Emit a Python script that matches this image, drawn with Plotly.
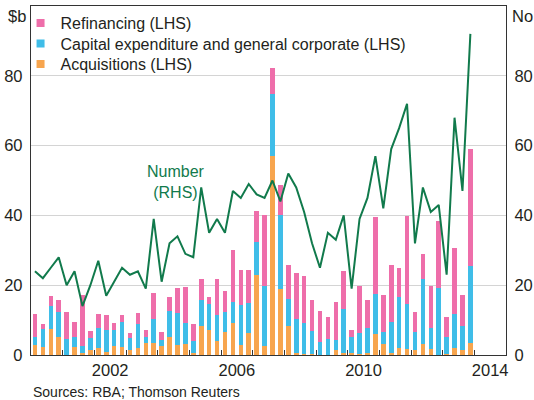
import plotly.graph_objects as go

# Quarterly data, 2000 Q1 to 2013 Q4
years = list(range(2000, 2014))
quarters = [f"{y} Q{q}" for y in years for q in range(1, 5)]

acquisitions = [2.9, 2.3, 7.4, 5.2, 0.0, 2.3, 0.6, 1.5, 2.1, 1.0, 2.7, 2.3,
                1.4, 2.0, 3.4, 3.4, 2.7, 5.2, 2.9, 3.2, 0.6, 8.4, 7.3, 4.0,
                6.7, 9.2, 2.9, 6.3, 22.9, 2.5, 57.1, 18.9, 8.4, 0.6, 0.4, 0.4,
                0.0, 0.0, 1.5, 0.6, 0.7, 0.3, 0.6, 6.1, 3.2, 0.6, 2.1, 1.7,
                1.5, 3.2, 1.7, 0.0, 0.4, 2.1, 1.5, 3.4]
capex_general = [2.4, 5.1, 6.6, 7.1, 4.6, 2.9, 2.0, 3.5, 5.7, 6.2, 4.6, 7.3,
                 3.6, 7.0, 1.8, 6.9, 1.7, 7.3, 9.1, 6.0, 3.4, 7.5, 7.4, 7.6,
                 5.7, 6.1, 11.4, 8.6, 9.6, 17.4, 17.8, 21.2, 7.6, 9.7, 8.8, 6.5,
                 3.8, 4.6, 2.9, 12.6, 4.5, 6.0, 7.2, 11.5, 3.5, 9.0, 14.5, 13.0,
                 5.2, 18.6, 6.1, 19.3, 4.8, 9.7, 6.9, 22.2]
refinancing = [6.4, 1.5, 2.9, 3.5, 7.7, 4.3, 14.6, 1.9, 3.9, 4.3, 1.9, 1.9,
               1.3, 3.0, 2.0, 7.5, 2.2, 4.1, 7.2, 10.3, 4.9, 5.9, 2.0, 10.2,
               5.9, 14.8, 10.1, 9.5, 8.8, 20.2, 7.3, 8.6, 9.8, 13.2, 13.5, 9.0,
               8.8, 6.3, 10.7, 10.9, 2.0, 13.6, 8.1, 21.9, 10.5, 16.2, 8.4, 25.2,
               5.7, 7.2, 12.1, 19.1, 5.7, 19.0, 8.8, 33.4]
number = [24, 22, 25, 28, 20, 24, 14, 20, 27, 17, 21, 25,
          23, 24, 19, 39, 21, 32, 34, 29, 28, 48, 35, 39,
          35, 47, 45, 49, 46, 45, 50, 44, 52, 48, 41, 32,
          25, 35, 33, 40, 19, 39, 45, 57, 42, 59, 65, 72,
          32, 48, 41, 43, 23, 68, 47, 92]

x_tick_labels = ["2002", "2006", "2010", "2014"]

# numeric x positions (mid-quarter)
xpos = [y + (q - 0.5) / 4 for y in years for q in range(1, 5)]

PINK = "#EE6EAA"
BLUE = "#3FBDE8"
ORANGE = "#F7A54E"
GREEN = "#117A4C"
TXT = "#231F20"
FONT = "Liberation Sans, Arial, sans-serif"

fig = go.Figure()
fig.add_trace(go.Bar(x=xpos, y=acquisitions, marker_color=ORANGE, marker_line_width=0,
                     name="Acquisitions (LHS)", showlegend=False, hovertext=quarters))
fig.add_trace(go.Bar(x=xpos, y=capex_general, marker_color=BLUE, marker_line_width=0,
                     name="Capital expenditure and general corporate (LHS)", showlegend=False,
                     hovertext=quarters))
fig.add_trace(go.Bar(x=xpos, y=refinancing, marker_color=PINK, marker_line_width=0,
                     name="Refinancing (LHS)", showlegend=False, hovertext=quarters))
fig.add_trace(go.Scatter(x=xpos, y=number, mode="lines", yaxis="y2",
                         line=dict(color=GREEN, width=2), name="Number (RHS)",
                         showlegend=False, hovertext=quarters))

# legend entries (small square swatches), one legend per row for exact spacing
legend_rows = [("Refinancing (LHS)", PINK, "legend", 23),
               ("Capital expenditure and general corporate (LHS)", BLUE, "legend2", 43.5),
               ("Acquisitions (LHS)", ORANGE, "legend3", 64)]
for nm, col, lg, _ in legend_rows:
    fig.add_trace(go.Scatter(x=[None], y=[None], mode="markers", name=nm, legend=lg,
                             marker=dict(symbol="square", size=8, color=col),
                             showlegend=True))

PLOT_TOP, PLOT_BOTTOM = 6, 355


def legend_cfg(yc):
    return dict(x=-0.022, y=(PLOT_BOTTOM - yc) / (PLOT_BOTTOM - PLOT_TOP),
                xanchor="left", yanchor="middle",
                bgcolor="rgba(0,0,0,0)", font=dict(size=16, color=TXT),
                itemwidth=30, borderwidth=0)


fig.update_layout(
    width=534, height=400,
    margin=dict(l=31, r=28, t=6, b=45, autoexpand=False),
    paper_bgcolor="white", plot_bgcolor="white",
    barmode="stack", bargap=0.42,
    font=dict(family=FONT, size=16, color=TXT),
    showlegend=True,
    legend=legend_cfg(legend_rows[0][3]),
    legend2=legend_cfg(legend_rows[1][3]),
    legend3=legend_cfg(legend_rows[2][3]),
    xaxis=dict(range=[2000, 2015], tickvals=[2002.5, 2006.5, 2010.5, 2014.5],
               ticktext=x_tick_labels, ticks="", showgrid=False, zeroline=False,
               showline=True, linecolor="#333333", linewidth=1.3, mirror=True,
               tickfont=dict(size=16.5, color=TXT),
               minor=dict(tickvals=list(range(2001, 2015)), ticks="inside",
                          ticklen=5, tickwidth=1.2, tickcolor="#333333", showgrid=False)),
    yaxis=dict(range=[0, 100], tickvals=[0, 20, 40, 60, 80], ticks="",
               showgrid=True, gridcolor="#D4D4D4", gridwidth=1.2, zeroline=False,
               showline=True, linecolor="#333333", linewidth=1.3,
               tickfont=dict(size=16.5, color=TXT), ticklabelstandoff=4),
    yaxis2=dict(range=[0, 100], tickvals=[0, 20, 40, 60, 80], ticks="",
                overlaying="y", side="right", showgrid=False, zeroline=False,
                showline=True, linecolor="#333333", linewidth=1.3,
                tickfont=dict(size=16.5, color=TXT), ticklabelstandoff=4),
    annotations=[
        dict(text="$b", xref="paper", yref="paper", x=-0.006, y=0.97,
             xanchor="right", yanchor="middle", showarrow=False,
             font=dict(size=16.5, color=TXT)),
        dict(text="No", xref="paper", yref="paper", x=1.008, y=0.97,
             xanchor="left", yanchor="middle", showarrow=False,
             font=dict(size=16.5, color=TXT)),
        dict(text="Number<br>(RHS)", xref="paper", yref="paper", x=0.305, y=0.497,
             xanchor="center", yanchor="middle", showarrow=False, align="center",
             font=dict(size=16, color=GREEN)),
        dict(text="Sources: RBA; Thomson Reuters", xref="paper", yref="paper",
             x=0.0, y=-0.078, xanchor="left", yanchor="top", showarrow=False,
             font=dict(size=14, color=TXT)),
    ],
)

fig.write_html("out.html", config={"displayModeBar": False},
               post_script="document.body.style.margin='0px';")
